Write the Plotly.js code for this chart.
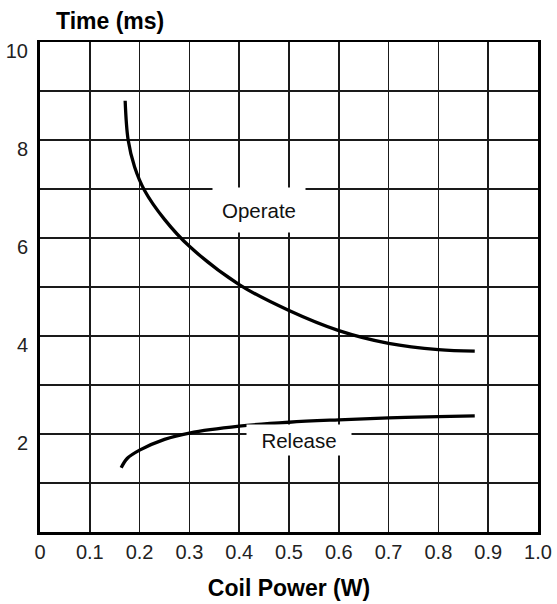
<!DOCTYPE html>
<html>
<head>
<meta charset="utf-8">
<script src="https://cdn.plot.ly/plotly-3.0.1.min.js"></script>
<style>
  html, body { margin: 0; padding: 0; background: #fff; }
  #chart { width: 557px; height: 604px; }
</style>
</head>
<body>
<div id="chart"></div>
<script>
// Operate time curve (Coil Power W -> Time ms)
const operatePower = [0.171, 0.177, 0.190, 0.210, 0.250, 0.300, 0.400, 0.500, 0.600, 0.700, 0.800, 0.873];
const operateTime  = [8.80, 8.00, 7.45, 6.97, 6.38, 5.83, 5.05, 4.52, 4.11, 3.85, 3.72, 3.69];

// Release time curve
const releasePower = [0.163, 0.175, 0.200, 0.250, 0.300, 0.400, 0.500, 0.600, 0.700, 0.800, 0.873];
const releaseTime  = [1.31, 1.50, 1.67, 1.89, 2.02, 2.16, 2.24, 2.29, 2.33, 2.355, 2.37];

// Tick labels
const xTickVals = [0, 0.1, 0.2, 0.3, 0.4, 0.5, 0.6, 0.7, 0.8, 0.9, 1.0];
const xTickText = ['0', '0.1', '0.2', '0.3', '0.4', '0.5', '0.6', '0.7', '0.8', '0.9', '1.0'];
const yTickVals = [2, 4, 6, 8, 10];
const yTickText = ['2', '4', '6', '8', '10'];

// Curve labels
const curveLabels = ['Operate', 'Release'];
const labelX = [0.44, 0.521];
const labelY = [6.58, 1.88];

const FONT = 'Liberation Sans, Arial, sans-serif';

const traces = [
  { x: operatePower, y: operateTime, mode: 'lines', name: 'Operate',
    line: { color: '#000', width: 3.3, shape: 'spline', smoothing: 1 }, hoverinfo: 'skip' },
  { x: releasePower, y: releaseTime, mode: 'lines', name: 'Release',
    line: { color: '#000', width: 3.3, shape: 'spline', smoothing: 1 }, hoverinfo: 'skip' }
];

const layout = {
  width: 557, height: 604,
  margin: { l: 40, r: 19, t: 42, b: 72 },
  paper_bgcolor: '#fff', plot_bgcolor: '#fff',
  showlegend: false,
  font: { family: FONT, color: '#111' },
  xaxis: {
    range: [0, 1.0], tickmode: 'array', tickvals: xTickVals, ticktext: xTickText,
    showgrid: true, gridcolor: '#1a1a1a', gridwidth: 1.7,
    showline: true, linecolor: '#000', linewidth: 2.5, mirror: true,
    ticks: '', zeroline: false,
    tickfont: { family: FONT, size: 20, color: '#222' },
    title: { text: '<b>Coil Power (W)</b>', font: { family: FONT, size: 23, color: '#000' }, standoff: 19 }
  },
  yaxis: {
    range: [0, 10], tickmode: 'array', tickvals: yTickVals, ticktext: yTickText,
    showgrid: true, gridcolor: '#1a1a1a', gridwidth: 1.7,
    minor: { dtick: 1, showgrid: true, gridcolor: '#1a1a1a', gridwidth: 1.7, ticks: '' },
    showline: true, linecolor: '#000', linewidth: 3, mirror: true,
    ticks: '', zeroline: false, ticklabelstandoff: 5, ticklabelshift: 9,
    tickfont: { family: FONT, size: 20, color: '#222' }
  },
  annotations: [
    { xref: 'paper', yref: 'paper', x: 0.141, y: 1.043, xanchor: 'center', yanchor: 'middle',
      text: '<b>Time (ms)</b>', showarrow: false, font: { family: FONT, size: 23, color: '#000' } },
    { x: labelX[0], y: labelY[0], text: curveLabels[0], showarrow: false,
      font: { family: FONT, size: 20.5, color: '#111' }, bgcolor: '#fff', width: 92, height: 44, borderpad: 0 },
    { x: labelX[1], y: labelY[1], text: curveLabels[1], showarrow: false,
      font: { family: FONT, size: 20.5, color: '#111' }, bgcolor: '#fff', width: 104, height: 30, borderpad: 0 }
  ]
};

Plotly.newPlot('chart', traces, layout, { staticPlot: true, displayModeBar: false });
</script>
</body>
</html>
